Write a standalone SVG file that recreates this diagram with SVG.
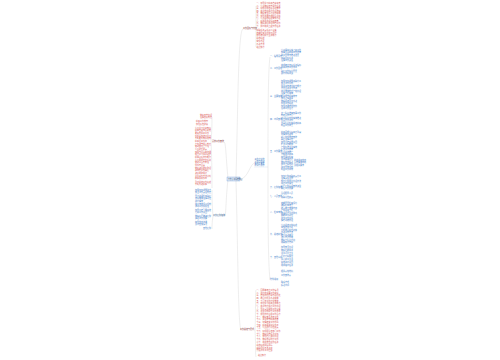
<svg xmlns="http://www.w3.org/2000/svg" width="500" height="360" viewBox="0 0 500 360">
<style>
text{font-family:"Noto Sans CJK SC","Noto Sans",sans-serif;font-size:2px}
.r{fill:#d9534f}.b{fill:#3b7bc8}.k{fill:#7a2a2a}.kb{fill:#2a4f80}
.c{fill:none;stroke:#cfcfcf;stroke-width:0.35}
.u{stroke:#e6b0ae;stroke-width:0.25}
.ub{stroke:#a9c4e6;stroke-width:0.25}
</style>
<rect width="500" height="360" fill="#fff"/>
<g id="connectors">
<path class="c" d="M236,177 C238,110 238,30 243,29"/>
<path class="c" d="M236,181 C238,250 238,325 241,330"/>
<path class="c" d="M240,179 C248,179 250,163 255,163"/>
<path class="c" d="M228,178 C226,160 226,142 224,142"/>
<path class="c" d="M228,180 C226,195 226,215 225,216"/>
<path class="c" d="M256,29 C256,20 256,10 256,6 M256,29 C256,35 256,42 256,47"/>
<path class="c" d="M255,330 C256,310 255,295 256,290 M255,330 C256,345 255,352 256,357"/>
<path class="c" d="M268,163 C268,120 268,70 270,57 M268,163 C268,220 268,260 270,280"/>
<path class="c" d="M211,142 C212,130 212,122 212,117 M211,142 C212,160 212,180 212,188"/>
<path class="c" d="M213,216 C212,205 212,195 212,190 M213,216 C212,222 212,226 212,229"/>
<path class="c" d="M279,152 C286,152 288,163 293,163"/>
</g>
<g id="center">
<rect x="227" y="177" width="13" height="4" fill="#dce7f6" stroke="#5b8bd0" stroke-width="0.3"/>
<text x="228" y="179.8" class="kb" style="font-size:1.8px">工作计划思维导图</text>
</g>
<g id="top-right">
<text x="243" y="28.5" class="k">工作目标与内容</text>
<line x1="243" y1="29" x2="256" y2="29" class="u"/>
<g class="r">
<text x="256.5" y="4">一、加强学习提高自身素质</text>
<text x="256.5" y="6.5">二、认真做好日常工作任务</text>
<text x="256.5" y="9">三、积极参加各项活动安排</text>
<text x="256.5" y="11.5">四、完善制度规范管理流程</text>
<text x="256.5" y="14">五、做好安全防范工作措施</text>
<text x="256.5" y="16.5">六、加强沟通协调配合工作</text>
<text x="256.5" y="19">七、认真总结经验查找不足</text>
<text x="256.5" y="21.5">八、提高服务意识和质量</text>
<text x="256.5" y="24">九、做好资料整理归档工作</text>
<text x="256.5" y="26.5">十、按时完成上级交办任务</text>
<text x="256.5" y="31">明确任务责任到人落实</text>
<text x="256.5" y="33.5">定期检查及时整改问题</text>
<text x="256.5" y="36">加强培训提升业务能力</text>
<text x="256.5" y="39">总结经验</text>
<text x="256.5" y="42">查找不足</text>
<text x="256.5" y="45">改进方法</text>
<text x="256.5" y="48">继续努力</text>
</g>
</g>
<g id="middle-right">
<text x="254.5" y="159.5" class="b">工作计划的</text>
<text x="254.5" y="161.8" class="b">具体内容和</text>
<text x="254.5" y="164.1" class="b">实施步骤安</text>
<text x="254.5" y="166.4" class="b">排如下所示</text>
<line x1="254" y1="167" x2="268" y2="167" class="ub"/>
<text x="294" y="161" class="b">补充说明内容</text>
<text x="294" y="163.3" class="b">具体实施细则</text>
<text x="294" y="165.6" class="b">及相关要求</text>
<g class="b">
<text x="270" y="57">一、指导思想</text>
<text x="281" y="51">认真贯彻落实上级工作</text><text x="281" y="53.3">部署全面提高工作质量</text><text x="281" y="55.6">和工作效率推进发展</text>
<text x="281" y="59">明确目标任务</text><text x="281" y="61.3">落实工作责任</text>
<text x="270" y="69">二、工作目标</text>
<text x="281" y="66">完成年度各项任务指标</text><text x="281" y="68.3">提高整体工作水平</text><text x="281" y="72">确保工作顺利开展</text><text x="281" y="74.3">取得较好成绩</text>
<text x="270" y="97">三、主要措施</text>
<text x="281" y="82">加强组织领导明确分工</text><text x="281" y="84.3">健全工作机制</text><text x="281" y="87">强化教育培训提升能力</text><text x="281" y="89.3">开展业务学习交流</text><text x="281" y="92">完善考核制度严格管理</text><text x="281" y="94.3">落实奖惩措施</text><text x="281" y="97">注重细节提高效率</text><text x="281" y="99.3">加强过程监督</text><text x="281" y="102">做好总结及时改进</text><text x="281" y="104.3">积累工作经验</text><text x="281" y="107">加强沟通密切协作</text><text x="281" y="109.3">形成工作合力</text>
<text x="270" y="120">四、时间安排</text>
<text x="281" y="114">第一阶段准备部署工作</text><text x="281" y="116.3">制定具体方案</text><text x="281" y="119">第二阶段组织实施推进</text><text x="281" y="121.3">全面开展工作</text><text x="281" y="124">第三阶段检查总结提高</text><text x="281" y="126.3">巩固工作成果</text>
<text x="270" y="152">五、工作要求</text>
<text x="281" y="133">提高思想认识高度重视</text><text x="281" y="135.3">切实加强领导</text><text x="281" y="138">精心组织周密安排</text><text x="281" y="140.3">确保落实到位</text><text x="281" y="143">加强宣传营造氛围</text><text x="281" y="145.3">扩大工作影响</text><text x="281" y="148">严格标准注重实效</text><text x="281" y="150.3">保证工作质量</text><text x="281" y="153">认真总结推广</text><text x="281" y="155.3">不断完善提高</text><text x="281" y="158">加强督促检查</text><text x="281" y="160.3">及时解决问题</text><text x="281" y="163">做好信息报送</text><text x="281" y="165.3">按时上报材料</text><text x="281" y="168">建立长效机制</text><text x="281" y="170.3">巩固工作成效</text>
<text x="270" y="188">六、保障措施</text>
<text x="281" y="177">组织保障明确职责分工</text><text x="281" y="179.3">落实责任主体</text><text x="281" y="182">制度保障完善管理办法</text><text x="281" y="184.3">规范工作程序</text><text x="281" y="187">经费保障合理安排资金</text><text x="281" y="189.3">确保工作需要</text>
<text x="270" y="197">七、人员安排</text>
<text x="281" y="194">合理配置人员</text><text x="281" y="198">明确岗位职责</text>
<text x="270" y="213">八、检查考核</text>
<text x="281" y="204">定期开展检查评比</text><text x="281" y="206.3">通报检查结果</text><text x="281" y="209">纳入年度考核内容</text><text x="281" y="211.3">严格兑现奖惩</text><text x="281" y="214">发现问题及时整改</text><text x="281" y="216.3">限期整改到位</text><text x="281" y="219">建立工作台账</text><text x="281" y="221.3">实行动态管理</text>
<text x="270" y="235">九、总结提升</text>
<text x="281" y="226">认真总结工作经验</text><text x="281" y="228.3">查找存在不足</text><text x="281" y="231">分析原因提出对策</text><text x="281" y="233.3">改进工作方法</text><text x="281" y="236">推广先进典型</text><text x="281" y="238.3">发挥示范作用</text><text x="281" y="241">做好下阶段计划</text><text x="281" y="243.3">明确努力方向</text>
<text x="270" y="258">十、其他事项</text>
<text x="281" y="248">加强安全管理</text><text x="281" y="251">做好后勤服务</text><text x="281" y="254">注重环境卫生</text><text x="281" y="257">保持良好秩序</text><text x="281" y="260">关心职工生活</text><text x="281" y="263">营造和谐氛围</text><text x="281" y="266">完成临时任务</text>
<text x="270" y="280">附件说明</text>
<text x="281" y="272">相关表格材料</text><text x="281" y="276">工作安排表</text><text x="281" y="283">联系方式</text><text x="281" y="286">报送时间</text>
</g>
</g>
<g id="left-top">
<text x="212" y="141.5" class="k">具体工作安排</text>
<line x1="212" y1="142" x2="224" y2="142" class="u"/>
<g class="r">
<text x="200" y="116">做好日常管理</text><text x="200" y="118.3">落实各项制度</text>
<text x="196" y="122">提高工作效率</text><text x="196" y="125">加强队伍建设</text>
<text x="195" y="129">认真学习业务知识</text><text x="195" y="131.3">提高自身综合素质</text><text x="195" y="133.6">更好地服务工作</text>
<text x="195" y="137">积极参加培训学习</text><text x="195" y="139.3">不断更新知识结构</text><text x="195" y="141.6">提高业务水平</text>
<text x="195" y="145">严格遵守规章制度</text><text x="195" y="147.3">做到按时上下班</text><text x="195" y="149.6">认真履行职责</text>
<text x="195" y="153">加强与同事的沟通</text><text x="195" y="155.3">相互学习共同进步</text><text x="195" y="157.6">提高团队协作能力</text>
<text x="195" y="161">认真完成交办任务</text><text x="195" y="163.3">做到事事有着落</text><text x="195" y="165.6">件件有回音</text>
<text x="195" y="169">做好资料收集整理</text><text x="195" y="171.3">和归档工作确保</text><text x="195" y="173.6">资料完整规范</text>
<text x="195" y="177">注重工作方法创新</text><text x="195" y="179.3">提高服务水平</text>
<text x="195" y="183">及时总结工作经验</text><text x="195" y="185.3">不断改进提高</text>
</g>
</g>
<g id="left-bottom">
<text x="213" y="215.5" class="kb">工作保障措施</text>
<line x1="213" y1="216" x2="225" y2="216" class="ub"/>
<g class="b">
<text x="195" y="191">加强组织领导建立</text><text x="195" y="193.3">健全工作责任制度</text>
<text x="195" y="197">强化监督检查确保</text><text x="195" y="199.3">各项措施落实到位</text><text x="195" y="201.6">取得实效</text>
<text x="195" y="205">完善考核评价机制</text><text x="195" y="207.3">调动工作积极性</text>
<text x="195" y="211">加强宣传引导营造</text><text x="195" y="213.3">良好工作氛围</text>
<text x="195" y="217">做好经费物资保障</text><text x="195" y="219.3">满足工作需要</text>
<text x="195" y="223">加强信息沟通</text><text x="195" y="225.3">及时反馈情况</text>
<text x="203" y="229">其他保障</text>
</g>
</g>
<g id="bottom-right">
<text x="240" y="329.5" class="k">工作总结与展望</text>
<line x1="240" y1="330" x2="255" y2="330" class="u"/>
<g class="r">
<text x="256.5" y="291">一、回顾本年度工作情况</text><text x="256.5" y="293.5">二、取得的主要工作成绩</text><text x="256.5" y="296">三、存在的问题和不足之处</text>
<text x="256.5" y="299">四、原因分析及改进措施</text><text x="256.5" y="301.5">五、下一步工作打算安排</text><text x="256.5" y="304">六、加强学习提高业务能力</text>
<text x="256.5" y="307">七、完善制度规范工作管理</text><text x="256.5" y="309.5">八、强化责任狠抓工作落实</text><text x="256.5" y="312">九、注重创新提升工作水平</text>
<text x="256.5" y="315">十、加强协作形成工作合力</text><text x="256.5" y="317.5">十一、做好安全稳定工作</text><text x="256.5" y="320">十二、关注细节提高质量</text>
<text x="256.5" y="323">十三、切实转变工作作风</text><text x="256.5" y="325.5">十四、提高服务意识水平</text><text x="256.5" y="328">十五、认真履行岗位职责</text>
<text x="256.5" y="332">十六、积极配合各部门工作</text><text x="256.5" y="334.5">十七、做好宣传报道工作</text><text x="256.5" y="337">十八、加强档案资料管理</text>
<text x="256.5" y="340">十九、做好各项统计工作</text><text x="256.5" y="342.5">二十、完成其他工作任务</text>
<text x="256.5" y="346">总结经验再接再厉</text><text x="256.5" y="348.5">明确目标奋发进取</text><text x="256.5" y="351">开拓创新争创佳绩</text>
<text x="258" y="356">继续努力</text>
</g>
</g>
</svg>
